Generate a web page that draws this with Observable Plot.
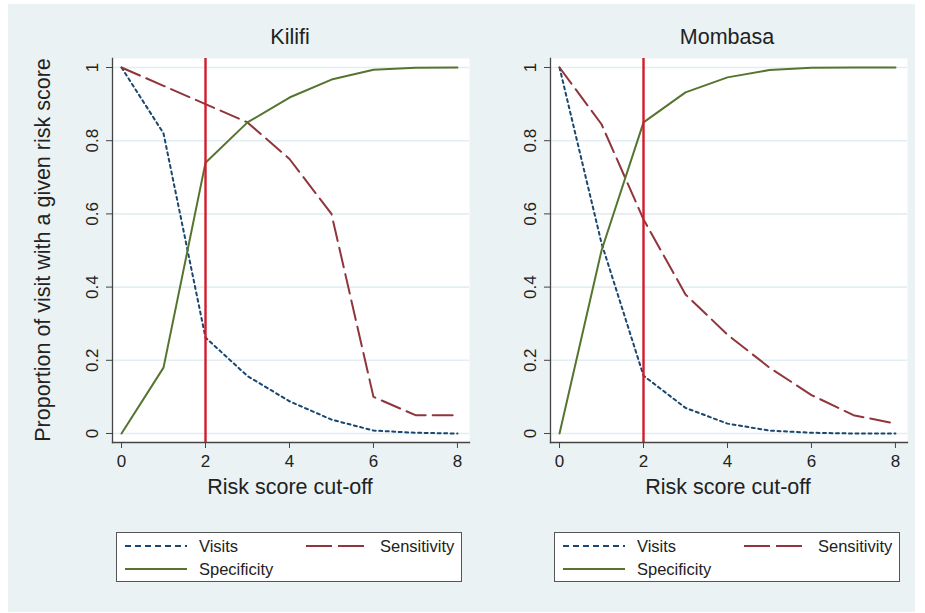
<!DOCTYPE html>
<html>
<head>
<meta charset="utf-8">
<script src="https://cdn.jsdelivr.net/npm/d3@7"></script>
<script src="https://cdn.jsdelivr.net/npm/@observablehq/plot@0.6"></script>
<style>
  html, body { margin: 0; padding: 0; background: #ffffff; }
  #root { position: relative; width: 925px; height: 613px; overflow: hidden; font-family: "Liberation Sans", Arial, sans-serif; color: #222; }
  #bg { position: absolute; left: 8px; top: 4px; width: 907px; height: 608px; background: #eaf2f3; }
  .abs { position: absolute; white-space: nowrap; }
  .ctr { transform: translate(-50%, -50%); }
  .title { font-size: 21.5px; }
  .xlab { font-size: 21.5px; }
  .ylab { font-size: 21.5px; transform: translate(-50%, -50%) rotate(-90deg); }
  .legend { position: absolute; background: #fff; border: 1px solid #555; box-sizing: border-box; width: 346px; height: 50px; }
  .legend .t { position: absolute; font-size: 16.5px; transform: translateY(-50%); }
  .legend svg { position: absolute; left: 0; top: 0; }
</style>
</head>
<body>
<div id="root"><div id="bg"></div></div>
<script>
// ---- data ----
const cutoffs = [0, 1, 2, 3, 4, 5, 6, 7, 8];
const kilifiVisits      = [1, 0.82, 0.262, 0.157, 0.088, 0.038, 0.008, 0.002, 0];
const kilifiSensitivity = [1, 0.95, 0.90, 0.85, 0.75, 0.60, 0.10, 0.05, 0.05];
const kilifiSpecificity = [0, 0.18, 0.74, 0.85, 0.918, 0.967, 0.994, 0.999, 1];
const mombasaVisits      = [1, 0.52, 0.158, 0.07, 0.027, 0.008, 0.002, 0, 0];
const mombasaSensitivity = [1, 0.845, 0.585, 0.38, 0.27, 0.18, 0.105, 0.05, 0.027];
const mombasaSpecificity = [0, 0.50, 0.85, 0.932, 0.973, 0.993, 0.999, 1, 1];
const cutoffLine = [2];
const panelNames = ["Kilifi", "Mombasa"];
const seriesNames = ["Visits", "Sensitivity", "Specificity"];
const xTicks = [0, 2, 4, 6, 8];
const yTicks = [0, 0.2, 0.4, 0.6, 0.8, 1];
const xTitle = "Risk score cut-off";
const yTitle = "Proportion of visit with a given risk score";

// ---- styles ----
const colors = {Visits: "#1a476f", Sensitivity: "#90353b", Specificity: "#55752f"};
const dashes = {Visits: "3,3.5", Sensitivity: "20,7", Specificity: null};
const redLine = "#d01c2c";
const axisColor = "#444";

const panels = [
  {name: panelNames[0], series: {Visits: kilifiVisits, Sensitivity: kilifiSensitivity, Specificity: kilifiSpecificity}, left: 0},
  {name: panelNames[1], series: {Visits: mombasaVisits, Sensitivity: mombasaSensitivity, Specificity: mombasaSpecificity}, left: 438}
];

const root = document.getElementById("root");

function makePanel(p) {
  const rows = [];
  for (const s of seriesNames) p.series[s].forEach((v, i) => rows.push({cutoff: cutoffs[i], value: v, series: s}));
  const lineMarks = seriesNames.map(s => Plot.line(rows.filter(r => r.series === s), {
    x: "cutoff", y: "value", stroke: colors[s], strokeWidth: 2, strokeDasharray: dashes[s], strokeLinejoin: "round"
  }));
  const svg = Plot.plot({
    width: 470, height: 500,
    marginLeft: 112, marginRight: 1, marginTop: 58, marginBottom: 58,
    style: {background: "transparent", fontFamily: "'Liberation Sans', Arial, sans-serif", fontSize: "17px", color: "#222", overflow: "visible"},
    x: {domain: [-0.215, 8.287]},
    y: {domain: [-0.0246, 1.0246]},
    marks: [
      Plot.frame({fill: "white", stroke: "none"}),
      Plot.gridY(yTicks, {stroke: "#e3eef2", strokeOpacity: 1, strokeWidth: 1.6}),
      ...lineMarks,
      Plot.ruleX(cutoffLine, {stroke: redLine, strokeWidth: 2.4}),
      Plot.frame({anchor: "left", stroke: axisColor, strokeWidth: 1.3}),
      Plot.frame({anchor: "bottom", stroke: axisColor, strokeWidth: 1.3}),
      Plot.axisY(yTicks, {tickSize: 6, tickPadding: 9, tickRotate: -90, textAnchor: "middle", lineAnchor: "bottom",
        stroke: axisColor, fill: "#222", label: null, tickFormat: d => String(d)}),
      Plot.axisX(xTicks, {tickSize: 6, tickPadding: 6, stroke: axisColor, fill: "#222", label: null, tickFormat: d => String(d)})
    ]
  });
  svg.style.position = "absolute";
  svg.style.left = p.left + "px";
  svg.style.top = "0px";
  root.appendChild(svg);

  const cx = p.left + 112 + (456 - 112 + 12) / 2 - 0; // approx center of plot region
  const center = p.left + 290;
  const t = document.createElement("div");
  t.className = "abs ctr title";
  t.style.left = (center - (p.left ? 1 : 0)) + "px";
  t.style.top = "37px";
  t.textContent = p.name;
  root.appendChild(t);

  const xl = document.createElement("div");
  xl.className = "abs ctr xlab";
  xl.style.left = center + "px";
  xl.style.top = "487px";
  xl.textContent = xTitle;
  root.appendChild(xl);

  // legend
  const lg = document.createElement("div");
  lg.className = "legend";
  const lgLeft = p.left + 116;
  lg.style.left = lgLeft + "px";
  lg.style.top = "532px";
  const ns = "http://www.w3.org/2000/svg";
  const ls = document.createElementNS(ns, "svg");
  ls.setAttribute("width", 346); ls.setAttribute("height", 50);
  const items = [
    {s: "Visits", x1: 8, x2: 70, y: 13, tx: 82},
    {s: "Sensitivity", x1: 189, x2: 249, y: 13, tx: 263},
    {s: "Specificity", x1: 8, x2: 70, y: 36, tx: 82}
  ];
  for (const it of items) {
    const l = document.createElementNS(ns, "line");
    l.setAttribute("x1", it.x1); l.setAttribute("x2", it.x2);
    l.setAttribute("y1", it.y); l.setAttribute("y2", it.y);
    l.setAttribute("stroke", colors[it.s]); l.setAttribute("stroke-width", 2);
    if (dashes[it.s]) l.setAttribute("stroke-dasharray", it.s === "Visits" ? "6,4" : "26,6");
    ls.appendChild(l);
    const tx = document.createElement("div");
    tx.className = "t";
    tx.style.left = it.tx + "px";
    tx.style.top = it.y + "px";
    tx.textContent = it.s;
    lg.appendChild(tx);
  }
  lg.appendChild(ls);
  root.appendChild(lg);
}

panels.forEach(makePanel);

const yl = document.createElement("div");
yl.className = "abs ylab";
yl.style.left = "43px";
yl.style.top = "250px";
yl.textContent = yTitle;
root.appendChild(yl);
</script>
</body>
</html>
